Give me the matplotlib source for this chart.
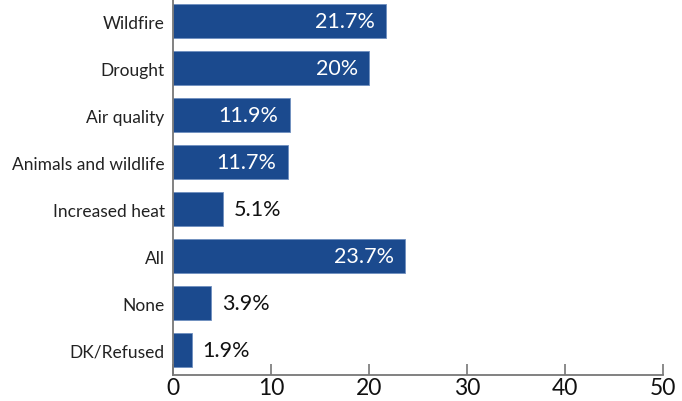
import matplotlib.pyplot as plt

# Survey responses (percent)
categories = ["Wildfire", "Drought", "Air quality", "Animals and wildlife",
              "Increased heat", "All", "None", "DK/Refused"]
values = [21.7, 20, 11.9, 11.7, 5.1, 23.7, 3.9, 1.9]
value_labels = ["21.7%", "20%", "11.9%", "11.7%", "5.1%", "23.7%", "3.9%", "1.9%"]
xticks = [0, 10, 20, 30, 40, 50]

BAR_COLOR = "#1b4a8e"
plt.rcParams['font.family'] = ['Lato', 'DejaVu Sans']

fig = plt.figure(figsize=(6.82, 4.02), dpi=100)
ax = fig.add_axes([0.2537, 0.064, 0.7183, 0.936])

pos = list(range(len(categories)))
ax.barh(pos, values, height=0.72, color=BAR_COLOR, edgecolor="#6f8fc0", linewidth=0.6)

for p, v, lab in zip(pos, values, value_labels):
    if v > 10:
        ax.annotate(lab, (v, p), xytext=(-8, 0), textcoords="offset points",
                    ha="right", va="center", color="white", fontsize=15.5)
    else:
        ax.annotate(lab, (v, p), xytext=(8, 0), textcoords="offset points",
                    ha="left", va="center", color="#111111", fontsize=15.5)

ax.set_xlim(0, 50)
ax.set_ylim(7.53, -0.47)
ax.set_yticks(pos)
ax.set_yticklabels(categories, fontsize=12.5, color="#222222")
ax.set_xticks(xticks)
ax.set_xticklabels([str(t) for t in xticks], fontsize=16.5, color="#111111")

ax.tick_params(axis="y", length=0, pad=6)
ax.tick_params(axis="x", direction="in", length=8, width=1.2, color="#777777", pad=1)

for s in ["top", "right"]:
    ax.spines[s].set_visible(False)
for s in ["left", "bottom"]:
    ax.spines[s].set_color("#777777")
    ax.spines[s].set_linewidth(1.3)

fig.savefig("out.png", dpi=100)
